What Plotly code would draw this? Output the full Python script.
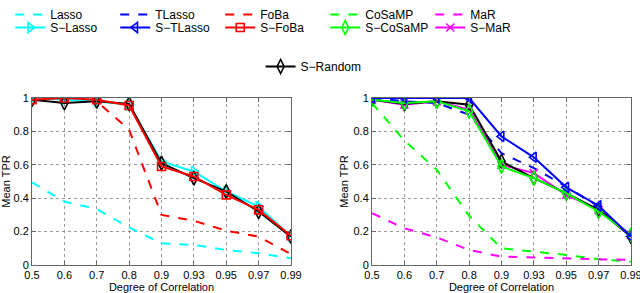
import plotly.graph_objects as go

categories = ["0.5", "0.6", "0.7", "0.8", "0.9", "0.93", "0.95", "0.97", "0.99"]

# Left panel
lasso = [0.495, 0.38, 0.335, 0.225, 0.13, 0.12, 0.09, 0.07, 0.04]
foba = [1.0, 1.0, 0.98, 0.81, 0.30, 0.265, 0.205, 0.17, 0.065]
s_lasso = [1.0, 0.99, 0.98, 0.96, 0.62, 0.56, 0.44, 0.35, 0.17]
s_foba = [0.99, 1.0, 0.99, 0.955, 0.59, 0.53, 0.42, 0.33, 0.175]
s_random_left = [0.99, 0.97, 0.98, 0.965, 0.61, 0.52, 0.44, 0.32, 0.17]

# Right panel
tlasso = [1.0, 0.98, 0.97, 0.90, 0.67, 0.58, 0.47, 0.35, 0.17]
cosamp = [0.97, 0.745, 0.57, 0.295, 0.10, 0.08, 0.06, 0.035, 0.02]
mar = [0.31, 0.22, 0.165, 0.09, 0.05, 0.045, 0.04, 0.035, 0.03]
s_tlasso = [1.0, 1.0, 1.0, 1.0, 0.77, 0.645, 0.465, 0.355, 0.17]
s_cosamp = [0.99, 0.97, 0.98, 0.92, 0.59, 0.52, 0.43, 0.32, 0.18]
s_mar = [0.99, 0.96, 0.98, 0.93, 0.60, 0.55, 0.42, 0.33, 0.18]
s_random_right = [0.99, 0.965, 0.98, 0.96, 0.62, 0.52, 0.43, 0.33, 0.17]

y_ticks = [0, 0.2, 0.4, 0.6, 0.8, 1]
y_ticktext = ["0", "0.2", "0.4", "0.6", "0.8", "1"]

xi = list(range(len(categories)))

CYAN = "#00FFFF"
BLUE = "#0000FF"
RED = "#FF0000"
GREEN = "#00FF00"
MAG = "#FF00FF"
BLACK = "#000000"

fig = go.Figure()


def dashed(y, name, color, xa, ya, rank):
    fig.add_trace(go.Scatter(
        x=xi, y=y, name=name, mode="lines",
        line=dict(color=color, width=2, dash="dash"),
        xaxis=xa, yaxis=ya, legend="legend", legendrank=rank,
    ))


def solid(y, name, color, symbol, xa, ya, rank, legend="legend2", show=True, size=9):
    fig.add_trace(go.Scatter(
        x=xi, y=y, name=name, mode="lines+markers",
        line=dict(color=color, width=2),
        marker=dict(symbol=symbol, size=size, color=color,
                    line=dict(color=color, width=1.6)),
        xaxis=xa, yaxis=ya, legend=legend, legendrank=rank, showlegend=show,
    ))


# left panel
dashed(lasso, "Lasso", CYAN, "x", "y", 1)
dashed(foba, "FoBa", RED, "x", "y", 3)
solid(s_lasso, "S−Lasso", CYAN, "triangle-right-open", "x", "y", 1)
solid(s_random_left, "S−Random", BLACK, "diamond-tall-open", "x", "y", 1, legend="legend3", size=10)
solid(s_foba, "S−FoBa", RED, "square-open", "x", "y", 3, size=8)

# right panel
dashed(tlasso, "TLasso", BLUE, "x2", "y2", 2)
dashed(cosamp, "CoSaMP", GREEN, "x2", "y2", 4)
dashed(mar, "MaR", MAG, "x2", "y2", 5)
solid(s_mar, "S−MaR", MAG, "x-thin-open", "x2", "y2", 5, size=8)
solid(s_random_right, "S−Random", BLACK, "diamond-tall-open", "x2", "y2", 1, legend="legend3", show=False, size=10)
solid(s_cosamp, "S−CoSaMP", GREEN, "diamond-tall-open", "x2", "y2", 4, size=10)
solid(s_tlasso, "S−TLasso", BLUE, "triangle-left-open", "x2", "y2", 2)

FONT = "Liberation Sans, Arial, sans-serif"
axis_common = dict(
    showline=True, linecolor="#666666", linewidth=1, mirror="ticks",
    ticks="inside", ticklen=4, tickcolor="#666666",
    showgrid=True, gridcolor="#999999", griddash="dot", gridwidth=1,
    zeroline=False, tickfont=dict(size=11, color="black", family=FONT),
    automargin=False,
)

ydom = [28 / 293, 195 / 293]
leg_common = dict(orientation="h", xanchor="left", yanchor="top",
                  entrywidth=60, entrywidthmode="pixels", itemwidth=30,
                  font=dict(size=12), bgcolor="rgba(0,0,0,0)", tracegroupgap=0)
fig.update_layout(
    width=640, height=293,
    margin=dict(l=0, r=0, t=0, b=0),
    paper_bgcolor="white", plot_bgcolor="white",
    font=dict(family=FONT, color="black"),
    xaxis=dict(domain=[32 / 640, 291 / 640], range=[0, 8], tickvals=xi, ticktext=categories,
               title=dict(text="Degree of Correlation", font=dict(size=11), standoff=1),
               anchor="y", ticklabeloverflow="allow", **axis_common),
    yaxis=dict(domain=ydom, range=[0, 1], tickvals=y_ticks, ticktext=y_ticktext,
               title=dict(text="Mean TPR", font=dict(size=11), standoff=2),
               anchor="x", **axis_common),
    xaxis2=dict(domain=[372 / 640, 631 / 640], range=[0, 8], tickvals=xi, ticktext=categories,
                title=dict(text="Degree of Correlation", font=dict(size=11), standoff=1),
                anchor="y2", ticklabeloverflow="allow", **axis_common),
    yaxis2=dict(domain=ydom, range=[0, 1], tickvals=y_ticks, ticktext=y_ticktext,
                title=dict(text="Mean TPR", font=dict(size=11), standoff=2),
                anchor="x2", **axis_common),
    legend=dict(x=0.016, y=1.0, **leg_common),
    legend2=dict(x=0.016, y=1 - 13 / 293, **leg_common),
    legend3=dict(orientation="h", x=0.49, xanchor="center", y=1 - 52 / 293, yanchor="top",
                 itemwidth=30, font=dict(size=12), bgcolor="rgba(0,0,0,0)"),
)

fig.write_html("out.html", config={"displayModeBar": False},
               post_script="document.body.style.margin='0';document.body.style.overflow='hidden';")
